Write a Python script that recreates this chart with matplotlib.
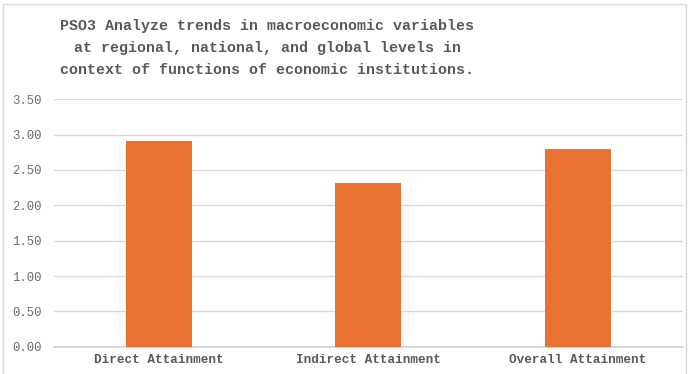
import matplotlib.pyplot as plt
from matplotlib.patches import Rectangle

categories = ['Direct Attainment', 'Indirect Attainment', 'Overall Attainment']
values = [2.91, 2.31, 2.79]
yticks = [0.0, 0.5, 1.0, 1.5, 2.0, 2.5, 3.0, 3.5]
title = ('PSO3 Analyze trends in macroeconomic variables\n'
         'at regional, national, and global levels in\n'
         'context of functions of economic institutions.')

mono = ['Liberation Mono', 'DejaVu Sans Mono']

fig = plt.figure(figsize=(6.89, 3.74), dpi=100)
ax = fig.add_axes([0.0784, 0.073, 0.9126, 0.6615])

# chart border
fig.patches.append(Rectangle((0.005, -0.01), 0.99, 1.0, transform=fig.transFigure,
                             fill=False, edgecolor='#d9d9d9', linewidth=1.0))

ax.bar(range(len(categories)), values, width=0.315, color='#E97132', zorder=3)

ax.set_xlim(-0.5, 2.5)
ax.set_ylim(0, 3.5)
ax.set_yticks(yticks)
ax.set_yticklabels([f'{v:.2f}' for v in yticks], family=mono, fontsize=8.8, color='#6a6a6a')
ax.set_xticks(range(len(categories)))
ax.set_xticklabels(categories, family=mono, fontsize=9.1, fontweight='bold', color='#595959')
ax.tick_params(axis='both', length=0)
ax.tick_params(axis='y', pad=9)
ax.tick_params(axis='x', pad=5)

ax.grid(axis='y', color='#d9d9d9', linewidth=1.0, zorder=0)
for s in ['top', 'right', 'left']:
    ax.spines[s].set_visible(False)
ax.spines['bottom'].set_color('#d0d0d0')
ax.spines['bottom'].set_linewidth(1.2)

fig.text(0.388, 0.95, title, ha='center', va='top', family=mono, fontsize=10.8,
         fontweight='bold', color='#595959', linespacing=1.75)

fig.savefig('out.png', dpi=100)
